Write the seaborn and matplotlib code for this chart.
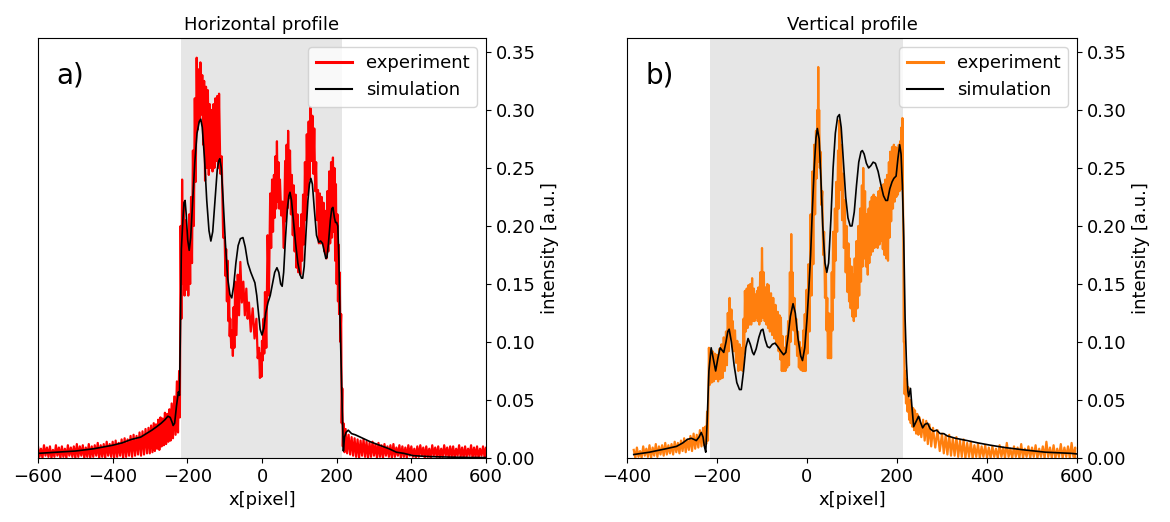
import numpy as np
import pandas as pd
import matplotlib
matplotlib.use("Agg")
import matplotlib.pyplot as plt
import seaborn as sns

# ---------------- data: horizontal profile ----------------
# noisy experiment band: x positions with upper / lower envelope readings
h_exp_x = [-600, -592, -584, -576, -568, -560, -552, -544, -536, -528, -520, -512, -504, -496, -488,
           -480, -472, -464, -456, -448, -440, -432, -424, -416, -408, -400, -392, -384, -376, -368,
           -360, -352, -344, -336, -328, -320, -312, -304,
           -297, -290, -284, -278, -272, -266, -260, -254, -248, -242, -235, -228, -222, -218, -214, -210,
           -205, -200, -195, -190, -185, -180, -175, -170, -165, -160, -155, -150, -145, -140, -135,
           -130, -125, -120, -115, -108, -100, -96, -92, -88, -85, -80, -76, -72, -65, -58,
           -50, -42, -35, -25, -15, -8, -3, 0, 4, 8, 15, 22, 27, 32, 36,
           40, 44, 48, 55, 62, 66, 70, 75, 80, 85, 90, 95, 100, 105, 110,
           115, 120, 125, 130, 135, 140, 145, 150, 155, 160, 165, 170, 175, 180, 185,
           190, 194, 198, 202, 205, 208, 212, 215, 218, 224,
           232, 240, 248, 256, 264, 272, 280, 288, 296, 304, 312, 320, 328, 336, 344,
           352, 360, 368, 376, 384, 392, 400, 408, 416, 424, 432, 440, 448, 456, 464,
           472, 480, 488, 496, 504, 512, 520, 528, 536, 544, 552, 560, 568, 576, 584, 592, 600]
h_exp_hi = [0.010, 0.008, 0.011, 0.009, 0.010, 0.007, 0.011, 0.009, 0.010, 0.008, 0.011, 0.009, 0.010, 0.012, 0.010,
            0.011, 0.009, 0.012, 0.010, 0.011, 0.013, 0.011, 0.012, 0.014, 0.012, 0.014, 0.015, 0.013, 0.016, 0.017,
            0.016, 0.019, 0.020, 0.019, 0.022, 0.023, 0.025, 0.026,
            0.028, 0.030, 0.029, 0.033, 0.035, 0.034, 0.039, 0.038, 0.042, 0.047, 0.053, 0.066, 0.075, 0.200, 0.240, 0.220,
            0.205, 0.195, 0.210, 0.225, 0.265, 0.310, 0.345, 0.335, 0.341, 0.330, 0.325, 0.320, 0.317, 0.305, 0.300,
            0.305, 0.310, 0.312, 0.314, 0.260, 0.190, 0.180, 0.170, 0.140, 0.120, 0.110, 0.130, 0.152, 0.158, 0.169,
            0.152, 0.146, 0.134, 0.129, 0.120, 0.095, 0.090, 0.101, 0.120, 0.143, 0.192, 0.228, 0.240, 0.244, 0.260,
            0.273, 0.255, 0.240, 0.221, 0.256, 0.270, 0.282, 0.265, 0.244, 0.235, 0.227, 0.210, 0.198, 0.210, 0.227,
            0.255, 0.279, 0.290, 0.302, 0.295, 0.284, 0.255, 0.231, 0.228, 0.225, 0.220, 0.213, 0.230, 0.247, 0.255,
            0.259, 0.250, 0.236, 0.210, 0.184, 0.160, 0.124, 0.060, 0.030, 0.025,
            0.020, 0.018, 0.017, 0.016, 0.015, 0.016, 0.014, 0.013, 0.014, 0.012, 0.013, 0.011, 0.012, 0.010, 0.011,
            0.012, 0.009, 0.011, 0.010, 0.009, 0.011, 0.010, 0.008, 0.010, 0.011, 0.009, 0.010, 0.008, 0.011, 0.009,
            0.010, 0.008, 0.011, 0.009, 0.010, 0.010, 0.008, 0.011, 0.009, 0.010, 0.008, 0.011, 0.009, 0.010, 0.008, 0.010, 0.009]
h_exp_lo = [0.001, 0.000, 0.002, 0.001, 0.000, 0.001, 0.002, 0.000, 0.001, 0.000, 0.002, 0.001, 0.000, 0.001, 0.002,
            0.000, 0.001, 0.000, 0.001, 0.002, 0.000, 0.001, 0.000, 0.002, 0.001, 0.000, 0.001, 0.002, 0.000, 0.001,
            0.002, 0.001, 0.002, 0.003, 0.002, 0.003, 0.004, 0.004,
            0.005, 0.006, 0.008, 0.007, 0.010, 0.011, 0.012, 0.014, 0.015, 0.017, 0.020, 0.022, 0.035, 0.120, 0.150, 0.140,
            0.145, 0.140, 0.150, 0.168, 0.200, 0.238, 0.283, 0.290, 0.296, 0.270, 0.239, 0.250, 0.244, 0.250, 0.247,
            0.250, 0.256, 0.250, 0.245, 0.190, 0.157, 0.135, 0.118, 0.105, 0.095, 0.088, 0.095, 0.106, 0.123, 0.134,
            0.123, 0.120, 0.109, 0.103, 0.086, 0.069, 0.070, 0.084, 0.090, 0.095, 0.140, 0.181, 0.195, 0.207, 0.215,
            0.221, 0.215, 0.209, 0.181, 0.204, 0.215, 0.224, 0.210, 0.192, 0.178, 0.164, 0.160, 0.158, 0.170, 0.184,
            0.205, 0.227, 0.240, 0.256, 0.245, 0.230, 0.205, 0.185, 0.185, 0.185, 0.178, 0.172, 0.178, 0.185, 0.190,
            0.195, 0.170, 0.150, 0.135, 0.124, 0.100, 0.030, 0.010, 0.005, 0.004,
            0.003, 0.002, 0.001, 0.000, 0.002, 0.001, 0.000, 0.001, 0.002, 0.000, 0.001, 0.000, 0.002, 0.001, 0.000,
            0.001, 0.002, 0.000, 0.001, 0.000, 0.002, 0.001, 0.000, 0.001, 0.002, 0.000, 0.001, 0.000, 0.002, 0.001,
            0.000, 0.001, 0.002, 0.000, 0.001, 0.000, 0.002, 0.001, 0.000, 0.001, 0.002, 0.000, 0.001, 0.000, 0.002, 0.001, 0.000]

h_sim_x = [-600, -550, -500, -450, -400, -375, -350, -325, -310, -295, -282, -270, -260, -252, -246,
           -241, -238, -234, -229, -224, -221, -219, -216, -212, -209, -206, -203, -199, -195, -191,
           -186, -180, -174, -168, -164, -160, -154, -148, -142, -137, -132, -126, -120, -116, -113,
           -109, -104, -98, -92, -86, -81, -76, -70, -64, -58, -51, -45, -38, -30, -24,
           -19, -14, -9, -5, 0, 5, 10, 16, 22, 28, 34, 40, 45, 50, 54,
           58, 63, 68, 72, 75, 79, 84, 90, 96, 102, 106, 109, 113, 118, 123,
           127, 131, 135, 140, 146, 152, 157, 162, 167, 171, 174, 178, 183, 187, 190,
           194, 197, 200, 203, 206, 209, 212, 215, 218, 221, 225, 231, 240, 250, 270,
           290, 315, 340, 360, 380, 405, 450, 500, 550, 600]
h_sim_y = [0.004, 0.005, 0.006, 0.008, 0.011, 0.013, 0.016, 0.018, 0.021, 0.024, 0.027, 0.030, 0.033, 0.036, 0.035,
           0.031, 0.028, 0.030, 0.045, 0.057, 0.054, 0.100, 0.180, 0.205, 0.220, 0.222, 0.210, 0.188, 0.179, 0.190,
           0.220, 0.255, 0.280, 0.290, 0.292, 0.285, 0.258, 0.222, 0.196, 0.187, 0.195, 0.222, 0.248, 0.256, 0.258,
           0.250, 0.222, 0.185, 0.155, 0.141, 0.138, 0.148, 0.168, 0.183, 0.189, 0.190, 0.182, 0.168, 0.160, 0.155,
           0.151, 0.140, 0.124, 0.111, 0.106, 0.112, 0.125, 0.134, 0.140, 0.150, 0.160, 0.164, 0.160, 0.150, 0.148,
           0.160, 0.190, 0.215, 0.226, 0.229, 0.222, 0.205, 0.185, 0.168, 0.158, 0.155, 0.155, 0.165, 0.195, 0.222,
           0.236, 0.241, 0.236, 0.215, 0.192, 0.186, 0.187, 0.185, 0.178, 0.172, 0.173, 0.185, 0.205, 0.215, 0.216,
           0.207, 0.203, 0.203, 0.200, 0.170, 0.120, 0.080, 0.040, 0.006, 0.018, 0.022, 0.024, 0.021, 0.020, 0.017,
           0.014, 0.011, 0.008, 0.005, 0.004, 0.002, 0.0012, 0.0008, 0.0005, 0.0004]

# ---------------- data: vertical profile ----------------
v_exp_x = [-385, -378, -371, -364, -357, -350, -343, -336, -329, -322, -315, -308, -301, -294, -287,
           -280, -273, -266, -259, -252, -245, -238, -231,
           -226, -222, -218, -214, -210, -205, -200, -195, -190, -185, -180, -176, -172, -168, -165, -160,
           -155, -150, -145, -141, -138, -134, -130, -126, -122, -118, -115, -111, -108, -104, -100,
           -96, -92, -88, -85, -80, -75, -70, -65, -61, -58, -54, -50, -46, -42, -38,
           -35, -32, -28, -24, -20, -16, -12, -8, -5, -1, 3, 8, 12, 16, 20,
           23, 25, 27, 30, 34, 38, 42, 45, 48, 52, 55, 58, 62, 65, 69,
           72, 76, 80, 84, 88, 92, 95, 99, 102, 106, 110, 114, 118, 122, 125,
           129, 133, 137, 140, 144, 148, 152, 155, 159, 163, 167, 170, 174, 178, 182,
           185, 189, 193, 197, 200, 204, 207, 210, 212, 214, 216, 218, 222, 225, 229,
           232, 236, 240, 245, 250, 258, 265, 272, 280, 290,
           300, 308, 316, 324, 332, 340, 348, 356, 364, 372, 380, 388, 396, 404, 412,
           420, 428, 436, 444, 452, 460, 468, 476, 484, 492, 500, 508, 516, 524, 532,
           540, 548, 556, 564, 572, 580, 588, 596]
v_exp_hi = [0.007, 0.009, 0.006, 0.010, 0.008, 0.011, 0.009, 0.012, 0.010, 0.011, 0.013, 0.011, 0.012, 0.014, 0.013,
            0.015, 0.017, 0.016, 0.019, 0.021, 0.020, 0.024, 0.026,
            0.027, 0.040, 0.095, 0.093, 0.092, 0.090, 0.089, 0.094, 0.098, 0.104, 0.109, 0.125, 0.138, 0.128, 0.118, 0.110,
            0.101, 0.098, 0.095, 0.120, 0.144, 0.146, 0.149, 0.150, 0.155, 0.146, 0.141, 0.144, 0.147, 0.160, 0.181,
            0.160, 0.147, 0.150, 0.149, 0.142, 0.138, 0.132, 0.126, 0.123, 0.121, 0.105, 0.095, 0.105, 0.118, 0.160,
            0.193, 0.160, 0.138, 0.120, 0.109, 0.100, 0.095, 0.110, 0.124, 0.145, 0.167, 0.210, 0.247, 0.270, 0.282,
            0.300, 0.337, 0.300, 0.264, 0.230, 0.195, 0.160, 0.138, 0.125, 0.124, 0.160, 0.195, 0.215, 0.238, 0.265,
            0.291, 0.270, 0.245, 0.222, 0.200, 0.185, 0.172, 0.165, 0.158, 0.172, 0.187, 0.200, 0.215, 0.235, 0.250,
            0.230, 0.210, 0.215, 0.221, 0.225, 0.227, 0.225, 0.224, 0.230, 0.233, 0.235, 0.236, 0.240, 0.244, 0.255,
            0.264, 0.268, 0.270, 0.268, 0.267, 0.270, 0.273, 0.285, 0.293, 0.200, 0.100, 0.075, 0.068, 0.061, 0.050,
            0.044, 0.043, 0.041, 0.038, 0.035, 0.033, 0.032, 0.029, 0.026, 0.024,
            0.021, 0.019, 0.020, 0.017, 0.018, 0.015, 0.016, 0.013, 0.014, 0.011, 0.012, 0.010, 0.011, 0.009, 0.010,
            0.008, 0.011, 0.009, 0.013, 0.008, 0.010, 0.009, 0.012, 0.008, 0.010, 0.009, 0.011, 0.008, 0.010, 0.014,
            0.009, 0.011, 0.008, 0.012, 0.009, 0.010, 0.013, 0.009]
v_exp_lo = [0.000, 0.001, 0.000, 0.002, 0.001, 0.000, 0.002, 0.001, 0.003, 0.002, 0.003, 0.004, 0.003, 0.005, 0.004,
            0.006, 0.005, 0.007, 0.006, 0.008, 0.009, 0.010, 0.011,
            0.012, 0.015, 0.063, 0.065, 0.066, 0.068, 0.066, 0.068, 0.069, 0.075, 0.080, 0.092, 0.103, 0.096, 0.092, 0.082,
            0.075, 0.076, 0.075, 0.090, 0.109, 0.112, 0.115, 0.115, 0.118, 0.118, 0.121, 0.118, 0.115, 0.118, 0.121,
            0.118, 0.115, 0.112, 0.109, 0.106, 0.103, 0.098, 0.092, 0.085, 0.075, 0.075, 0.075, 0.078, 0.080, 0.100,
            0.121, 0.110, 0.098, 0.088, 0.078, 0.076, 0.075, 0.075, 0.075, 0.090, 0.109, 0.140, 0.167, 0.210, 0.241,
            0.255, 0.267, 0.250, 0.218, 0.175, 0.138, 0.110, 0.086, 0.086, 0.086, 0.110, 0.138, 0.170, 0.195, 0.215,
            0.231, 0.205, 0.181, 0.160, 0.143, 0.135, 0.129, 0.122, 0.118, 0.122, 0.129, 0.140, 0.152, 0.165, 0.172,
            0.165, 0.158, 0.168, 0.175, 0.178, 0.181, 0.182, 0.181, 0.184, 0.187, 0.180, 0.175, 0.172, 0.170, 0.190,
            0.204, 0.215, 0.221, 0.225, 0.227, 0.230, 0.233, 0.232, 0.230, 0.100, 0.055, 0.047, 0.040, 0.033, 0.030,
            0.027, 0.024, 0.021, 0.020, 0.018, 0.015, 0.012, 0.010, 0.009, 0.006,
            0.004, 0.003, 0.002, 0.002, 0.001, 0.001, 0.000, 0.001, 0.000, 0.001, 0.000, 0.001, 0.000, 0.000, 0.001,
            0.000, 0.001, 0.000, 0.001, 0.000, 0.001, 0.000, 0.000, 0.001, 0.000, 0.001, 0.000, 0.001, 0.000, 0.001,
            0.000, 0.000, 0.001, 0.000, 0.001, 0.000, 0.001, 0.000]

v_sim_x = [-385, -350, -313, -290, -276, -266, -257, -251, -246, -240, -235, -231, -228, -225, -222,
           -218, -213, -208, -203, -198, -193, -189, -185, -180, -176, -173, -168, -162, -156, -150,
           -146, -141, -136, -131, -126, -121, -118, -113, -107, -102, -98, -93, -88, -83, -77,
           -71, -65, -58, -52, -47, -42, -37, -31, -26, -20, -14, -10, -5, 0, 4,
           8, 12, 16, 20, 23, 27, 31, 35, 40, 44, 48, 53, 58, 63, 68,
           72, 76, 81, 86, 91, 96, 100, 105, 110, 115, 120, 123, 127, 132, 137,
           142, 147, 152, 158, 164, 170, 175, 179, 184, 189, 193, 198, 202, 206, 209,
           212, 215, 218, 221, 224, 226, 230, 233, 237, 242, 248, 253, 257, 262, 268,
           274, 281, 288, 296, 304, 312, 330, 356, 380, 408, 440, 482, 530, 587, 600]
v_sim_y = [0.003, 0.005, 0.008, 0.010, 0.013, 0.016, 0.017, 0.016, 0.015, 0.018, 0.022, 0.018, 0.010, 0.005, 0.030,
           0.075, 0.095, 0.085, 0.075, 0.086, 0.095, 0.093, 0.091, 0.100, 0.109, 0.111, 0.100, 0.080, 0.065, 0.059,
           0.059, 0.075, 0.095, 0.103, 0.098, 0.091, 0.089, 0.094, 0.104, 0.110, 0.111, 0.102, 0.096, 0.095, 0.098,
           0.099, 0.096, 0.092, 0.089, 0.091, 0.105, 0.122, 0.133, 0.125, 0.103, 0.088, 0.084, 0.095, 0.120, 0.145,
           0.175, 0.215, 0.250, 0.276, 0.284, 0.275, 0.240, 0.200, 0.168, 0.160, 0.168, 0.205, 0.250, 0.280, 0.294,
           0.296, 0.285, 0.255, 0.225, 0.207, 0.200, 0.200, 0.212, 0.235, 0.255, 0.264, 0.265, 0.262, 0.254, 0.250,
           0.252, 0.255, 0.254, 0.247, 0.236, 0.226, 0.222, 0.222, 0.232, 0.238, 0.241, 0.243, 0.258, 0.270, 0.262,
           0.235, 0.190, 0.120, 0.082, 0.058, 0.053, 0.060, 0.045, 0.027, 0.031, 0.036, 0.030, 0.026, 0.029, 0.030,
           0.025, 0.023, 0.024, 0.021, 0.021, 0.019, 0.017, 0.015, 0.013, 0.011, 0.009, 0.007, 0.005, 0.004, 0.0035]


def zigzag(xs, hi, lo):
    """Alternate upper/lower envelope readings to draw the noisy band."""
    n = min(len(xs), len(hi), len(lo))
    px, py = [], []
    for i in range(n):
        nxt = xs[i + 1] if i + 1 < n else xs[i]
        px += [xs[i], (xs[i] + nxt) / 2]
        py += [hi[i], lo[i]]
    return pd.DataFrame({"x": px, "y": py})


W, H = 1170, 522
fig = plt.figure(figsize=(W / 100, H / 100), dpi=100)
ax1 = fig.add_axes([38 / W, 64 / H, 448 / W, 420 / H])
ax2 = fig.add_axes([627 / W, 64 / H, 450 / W, 420 / H])

FS = 13
yt = [0, 0.05, 0.10, 0.15, 0.20, 0.25, 0.30, 0.35]
panels = [
    (ax1, h_exp_x, h_exp_hi, h_exp_lo, h_sim_x, h_sim_y, "red", (-600, 600), "Horizontal profile", "a)"),
    (ax2, v_exp_x, v_exp_hi, v_exp_lo, v_sim_x, v_sim_y, "#ff7f0e", (-400, 600), "Vertical profile", "b)"),
]
for ax, ex, ehi, elo, sx, sy, col, xlim, title, tag in panels:
    ax.axvspan(-216, 213, color="#e6e6e6", zorder=0, lw=0)
    df = zigzag(ex, ehi, elo)
    sns.lineplot(data=df, x="x", y="y", sort=False, estimator=None, color=col,
                 lw=1.6, label="experiment", ax=ax)
    sdf = pd.DataFrame({"x": sx, "y": sy})
    sns.lineplot(data=sdf, x="x", y="y", sort=False, estimator=None, color="black",
                 lw=1.2, label="simulation", ax=ax)
    ax.set_xlim(*xlim)
    ax.set_ylim(0, 0.362)
    ax.set_yticks(yt)
    ax.set_yticklabels([f"{v:.2f}" for v in yt])
    ax.yaxis.tick_right()
    ax.yaxis.set_label_position("right")
    ax.set_ylabel("intensity [a.u.]", fontsize=FS)
    ax.set_xlabel("x[pixel]", fontsize=FS)
    ax.set_title(title, fontsize=FS)
    ax.tick_params(labelsize=FS)
    for s in ax.spines.values():
        s.set_visible(True)
        s.set_color("black")
    leg = ax.legend(loc="upper right", fontsize=FS)
    lines = leg.get_lines()
    lines[0].set_linewidth(2.2)
    lines[1].set_linewidth(1.5)
    ax.text(0.04, 0.91, tag, transform=ax.transAxes, fontsize=20, va="center", ha="left")

fig.savefig("out.png", dpi=100)
